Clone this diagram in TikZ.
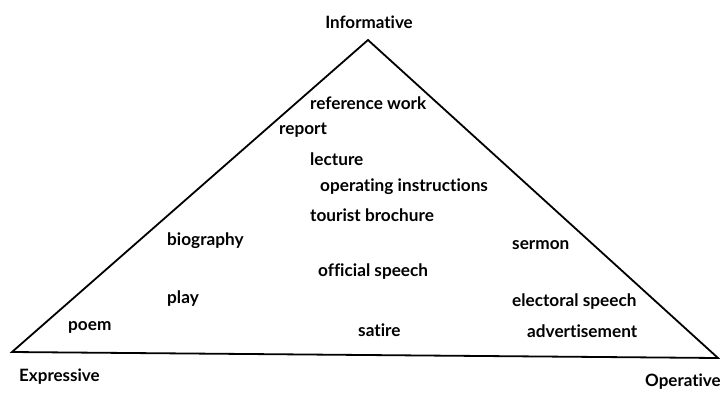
\documentclass[tikz,border=0pt]{standalone}
\usepackage{fontspec}
\setmainfont{Lato}[Ligatures={NoCommon}]
\usetikzlibrary{calc}

\begin{document}
\begin{tikzpicture} [
    x=1pt, y=-1pt,
    edge/.style={draw=black,line width=1.8pt,line join=miter},
    corner/.style={font=\bfseries\fontsize{17}{19}\selectfont,inner sep=0pt},
    genre/.style={font=\bfseries\fontsize{17.2}{19}\selectfont,anchor=west,inner sep=0pt}
]

\useasboundingbox (0,0) rectangle (720,392);

\coordinate (top) at (368,40);
\coordinate (left) at (12,352);
\coordinate (right) at (718,358);

\draw [edge] (top) -- (left) -- (right) -- cycle;

\node [corner,anchor=center] (inf) at (369,22) {Informative};
\node [corner,anchor=west] (exp) at (19,377) {Expressive};
\node [corner,anchor=west] (ope) at (645,382) {Operative};

\node [genre] (refwork)  at (310,103) {reference work};
\node [genre] (report)   at (279,130) {report};
\node [genre] (lecture)  at (310,159) {lecture};
\node [genre] (opinstr)  at (320,187) {operating instructions};
\node [genre] (tourist)  at (310,215) {tourist brochure};
\node [genre] (biog)     at (167,241) {biography};
\node [genre] (sermon)   at (512,245) {sermon};
\node [genre] (offspch)  at (318,272) {official speech};
\node [genre] (play)     at (167,299) {play};
\node [genre] (elspch)   at (512,302) {electoral speech};
\node [genre] (poem)     at (68,327) {poem};
\node [genre] (satire)   at (358,330) {satire};
\node [genre] (advert)   at (527,331) {advertisement};

\end{tikzpicture}
\end{document}
